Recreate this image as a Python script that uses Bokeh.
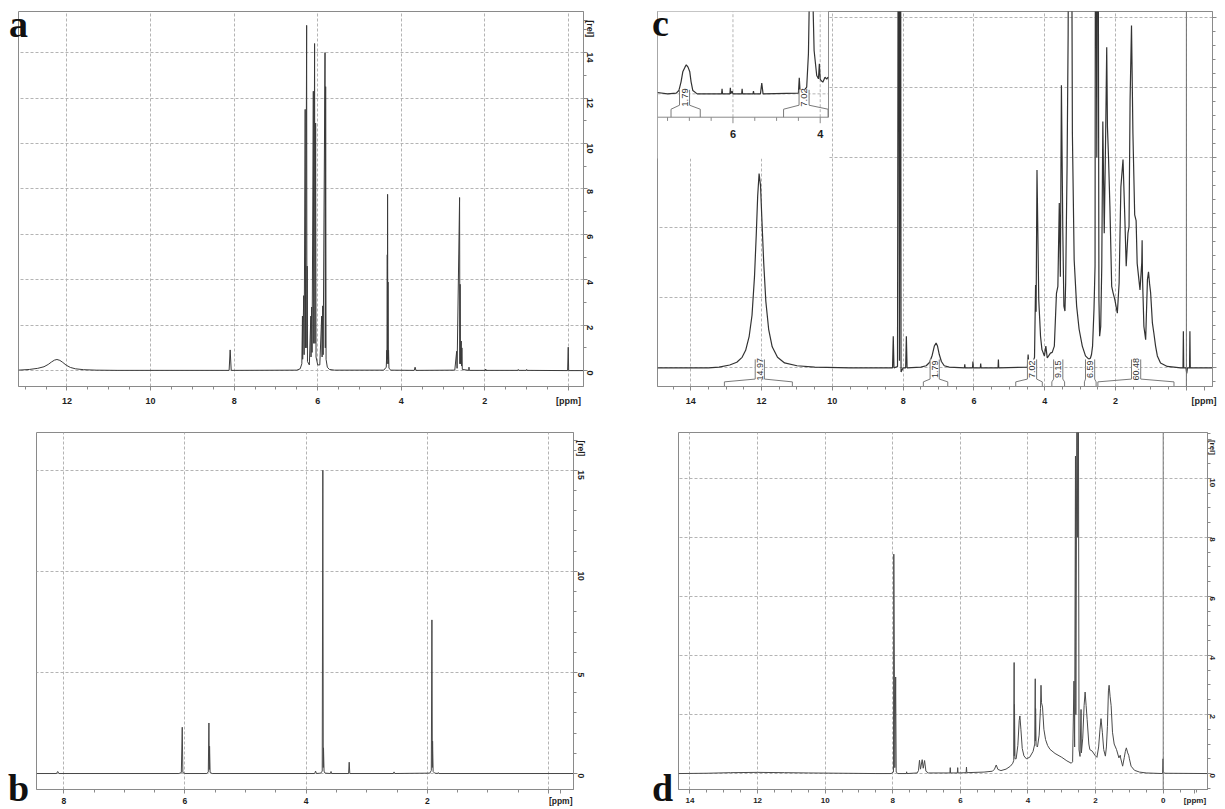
import math
import numpy as np
from bokeh.plotting import figure
from bokeh.layouts import column, row
from bokeh.models import Range1d, FixedTicker, Span, Div, InlineStyleSheet
from bokeh.embed import file_html
from bokeh.resources import INLINE
from bokeh.core.properties import value

# ---------------- DATA (ppm, intensity) ----------------
a_trace = [
    (13.16, 0.02), (12.90, 0.05), (12.70, 0.10), (12.55, 0.17), (12.45, 0.27),
    (12.37, 0.38), (12.30, 0.46), (12.24, 0.49), (12.17, 0.45), (12.10, 0.36),
    (12.02, 0.24), (11.92, 0.14), (11.80, 0.08), (11.60, 0.04), (11.30, 0.02),
    (10.80, 0.01), (8.12, 0.01), (8.095, 0.91), (8.07, 0.01),
    (6.50, 0.02), (6.42, 0.08), (6.38, 0.30), (6.365, 2.4), (6.36, 0.5),
    (6.335, 3.3), (6.325, 0.7), (6.30, 11.5), (6.29, 1.0), (6.265, 15.2),
    (6.258, 1.0), (6.252, 4.6), (6.245, 0.4), (6.20, 0.25),
    (6.165, 2.4), (6.16, 0.6), (6.145, 2.8), (6.135, 0.8), (6.105, 12.3),
    (6.095, 1.2), (6.075, 14.4), (6.065, 1.2), (6.05, 10.9), (6.04, 0.6),
    (6.00, 0.25), (5.95, 0.25), (5.905, 2.4), (5.895, 0.6), (5.88, 2.85),
    (5.87, 0.7), (5.825, 14.0), (5.818, 1.0), (5.81, 12.5), (5.80, 0.5),
    (5.77, 0.15), (5.72, 0.05), (5.60, 0.02),
    (4.42, 0.02), (4.36, 0.15), (4.345, 0.9), (4.34, 0.3), (4.335, 5.1),
    (4.332, 0.5), (4.328, 7.76), (4.322, 0.5), (4.318, 3.9), (4.312, 0.3),
    (4.305, 0.9), (4.295, 0.1), (4.25, 0.02),
    (3.69, 0.01), (3.67, 0.15), (3.65, 0.01),
    (2.72, 0.02), (2.675, 0.85), (2.665, 0.1), (2.605, 7.62), (2.598, 0.3),
    (2.593, 3.8), (2.585, 0.3), (2.565, 1.3), (2.558, 0.2), (2.55, 1.0),
    (2.54, 0.05), (2.385, 0.01), (2.38, 0.15), (2.375, 0.01),
    (1.985, 0.01), (1.98, 0.07), (1.975, 0.01),
    (1.21, 0.01), (1.20, 0.05), (1.19, 0.01),
    (1.01, 0.01), (1.00, 0.05), (0.99, 0.01),
    (0.02, 0.0), (0.005, 1.03), (-0.005, 0.0), (-0.36, 0.0),
]

b_trace = [
    (8.45, 0.0), (8.12, 0.0), (8.10, 0.1), (8.08, 0.0),
    (6.10, 0.0), (6.06, 0.05), (6.045, 2.29), (6.035, 0.05), (6.00, 0.0),
    (5.64, 0.0), (5.615, 0.08), (5.605, 2.5), (5.598, 0.2), (5.594, 1.35),
    (5.585, 0.05), (5.55, 0.0),
    (3.86, 0.0), (3.845, 0.12), (3.83, 0.0), (3.76, 0.02), (3.735, 0.12),
    (3.725, 15.0), (3.718, 0.3), (3.714, 1.27), (3.705, 0.12), (3.69, 0.02),
    (3.60, 0.0), (3.59, 0.1), (3.58, 0.0),
    (3.30, 0.0), (3.29, 0.56), (3.28, 0.0),
    (2.56, 0.0), (2.55, 0.08), (2.54, 0.0),
    (1.96, 0.02), (1.935, 0.15), (1.925, 7.6), (1.918, 0.3), (1.914, 1.6),
    (1.905, 0.1), (1.88, 0.02), (1.83, 0.0), (1.82, 0.05), (1.81, 0.0),
    (-0.41, 0.0),
]

c_trace = [
    (14.94, 0.0), (13.5, 0.0), (13.2, 0.01), (12.9, 0.04), (12.7, 0.08),
    (12.55, 0.15), (12.45, 0.25), (12.35, 0.45), (12.27, 0.75), (12.20, 1.30),
    (12.15, 1.90), (12.11, 2.45), (12.07, 2.77), (12.03, 2.60), (11.99, 2.10),
    (11.94, 1.50), (11.88, 0.95), (11.80, 0.55), (11.70, 0.30), (11.55, 0.15),
    (11.35, 0.07), (11.0, 0.03), (10.5, 0.01), (9.5, 0.0),
    (8.30, 0.0), (8.28, 0.45), (8.26, 0.0), (8.16, 0.02), (8.135, 9.0),
    (8.105, 0.1), (8.075, 9.0), (8.06, -0.06), (8.0, 0.0),
    (7.93, 0.0), (7.91, 0.45), (7.89, 0.0),
    (7.5, 0.01), (7.35, 0.03), (7.25, 0.08), (7.18, 0.18), (7.12, 0.31),
    (7.07, 0.355), (7.03, 0.31), (6.98, 0.19), (6.92, 0.09), (6.84, 0.03),
    (6.7, 0.01), (6.27, 0.0), (6.26, 0.05), (6.25, 0.0), (6.04, 0.0),
    (6.03, 0.09), (6.02, 0.0), (5.82, 0.0), (5.81, 0.06), (5.80, 0.0),
    (5.32, 0.0), (5.31, 0.12), (5.30, 0.0),
    (4.49, 0.01), (4.47, 0.19), (4.45, 0.03), (4.35, 0.06), (4.29, 0.15),
    (4.26, 1.18), (4.245, 0.8), (4.22, 2.82), (4.17, 0.97), (4.12, 0.45),
    (4.08, 0.26), (4.01, 0.17), (3.97, 0.31), (3.93, 0.14), (3.84, 0.21),
    (3.79, 0.22), (3.73, 0.31), (3.67, 1.06), (3.63, 1.16), (3.59, 2.35),
    (3.56, 1.3), (3.53, 4.03), (3.49, 1.92), (3.46, 0.88), (3.43, 0.81),
    (3.41, 1.21), (3.37, 2.87), (3.34, 4.76), (3.32, 8.0), (3.29, 6.0),
    (3.25, 8.0), (3.22, 3.34), (3.17, 1.54), (3.10, 0.88), (3.03, 0.55),
    (2.94, 0.31), (2.85, 0.17), (2.75, 0.12), (2.71, 0.14), (2.68, 0.19),
    (2.65, 0.31), (2.61, 0.83), (2.58, 1.45), (2.565, 9.0), (2.53, 3.0),
    (2.50, 9.0), (2.47, 0.97), (2.45, 0.45), (2.42, 0.59), (2.39, 1.45),
    (2.36, 3.51), (2.32, 1.92), (2.28, 3.34), (2.25, 4.57), (2.23, 3.44),
    (2.20, 3.01), (2.16, 2.3), (2.11, 1.16), (2.07, 1.07), (2.02, 0.97),
    (1.95, 0.78), (1.90, 1.21), (1.85, 2.58), (1.79, 2.97), (1.74, 2.16),
    (1.70, 1.45), (1.65, 1.92), (1.62, 2.01), (1.59, 3.82), (1.55, 4.88),
    (1.51, 3.34), (1.46, 2.18), (1.42, 2.1), (1.39, 1.49), (1.31, 1.11),
    (1.26, 1.5), (1.25, 1.82), (1.24, 1.3), (1.20, 0.59), (1.15, 0.40),
    (1.10, 1.26), (1.07, 1.37), (1.04, 1.2), (1.01, 1.07), (0.96, 0.64),
    (0.92, 0.50), (0.87, 0.31), (0.82, 0.17), (0.73, 0.07), (0.54, 0.02),
    (0.16, 0.0), (0.095, 0.0), (0.085, 0.52), (0.075, 0.0), (0.01, 0.0),
    (-0.01, -0.08), (-0.03, 0.0), (-0.09, 0.0), (-0.10, 0.52), (-0.11, 0.0),
    (-0.74, 0.0),
]

c_inset_trace = [
    (7.73, 0.02), (7.50, 0.0), (7.30, 0.01), (7.24, 0.05), (7.19, 0.18),
    (7.15, 0.33), (7.10, 0.40), (7.07, 0.435), (7.03, 0.40), (6.99, 0.33),
    (6.96, 0.18), (6.92, 0.05), (6.82, 0.0), (6.26, 0.0), (6.25, 0.075),
    (6.24, 0.0), (6.07, 0.0), (6.06, 0.09), (6.05, 0.0), (6.02, 0.04),
    (6.00, 0.0), (5.80, 0.0), (5.79, 0.075), (5.78, 0.0), (5.54, 0.0),
    (5.53, 0.04), (5.52, 0.0), (5.37, 0.0), (5.34, 0.16), (5.31, 0.0),
    (4.50, 0.01), (4.48, 0.24), (4.46, 0.02), (4.36, 0.06), (4.31, 0.10),
    (4.27, 0.6), (4.245, 1.6), (4.235, 3.0), (4.19, 3.0), (4.16, 1.2),
    (4.14, 0.65), (4.08, 0.275), (4.04, 0.225), (4.02, 0.45), (4.00, 0.22),
    (3.98, 0.20), (3.94, 0.175), (3.89, 0.25), (3.85, 0.22), (3.82, 0.25),
]

d_trace = [
    (14.34, 0.0), (13.5, 0.01), (12.8, 0.03), (12.0, 0.04), (11.2, 0.03),
    (10.5, 0.02), (9.5, 0.01), (8.5, 0.0), (8.05, 0.0), (7.98, 0.05),
    (7.97, 7.43), (7.94, 0.2), (7.915, 3.27), (7.90, 0.05), (7.85, 0.0),
    (7.60, 0.0), (7.59, 0.06), (7.58, 0.0), (7.28, 0.02), (7.24, 0.10),
    (7.21, 0.45), (7.18, 0.15), (7.13, 0.47), (7.10, 0.18), (7.06, 0.44),
    (7.02, 0.08), (6.95, 0.02), (6.31, 0.02), (6.30, 0.2), (6.29, 0.02),
    (6.09, 0.02), (6.08, 0.2), (6.07, 0.02), (5.83, 0.03), (5.82, 0.22),
    (5.81, 0.03), (5.30, 0.05), (5.05, 0.08), (4.99, 0.15), (4.94, 0.29),
    (4.89, 0.14), (4.80, 0.10), (4.65, 0.15), (4.52, 0.25), (4.45, 0.35),
    (4.42, 0.45), (4.41, 3.76), (4.405, 0.6), (4.40, 2.34), (4.385, 0.5),
    (4.35, 0.5), (4.30, 0.95), (4.26, 1.8), (4.24, 1.95), (4.21, 1.5),
    (4.17, 0.85), (4.12, 0.6), (4.05, 0.5), (3.95, 0.55), (3.85, 0.75),
    (3.80, 1.0), (3.785, 3.21), (3.78, 1.1), (3.775, 2.2), (3.76, 0.95),
    (3.72, 0.9), (3.67, 1.3), (3.63, 2.2), (3.615, 2.99), (3.60, 2.4),
    (3.57, 2.25), (3.53, 1.5), (3.48, 1.15), (3.42, 0.95), (3.35, 0.82),
    (3.20, 0.68), (3.00, 0.55), (2.85, 0.43), (2.72, 0.35), (2.68, 0.40),
    (2.64, 3.13), (2.62, 0.9), (2.595, 10.75), (2.585, 2.0), (2.55, 14.0),
    (2.53, 8.0), (2.51, 14.0), (2.49, 0.8), (2.46, 0.58), (2.43, 2.17),
    (2.42, 0.7), (2.38, 1.2), (2.34, 2.3), (2.31, 2.76), (2.28, 2.3),
    (2.25, 1.83), (2.20, 1.0), (2.17, 0.81), (2.10, 0.76), (2.02, 0.62),
    (1.96, 0.55), (1.91, 0.9), (1.87, 1.5), (1.84, 1.86), (1.80, 1.4),
    (1.76, 0.81), (1.71, 0.59), (1.68, 0.9), (1.65, 1.6), (1.62, 2.8),
    (1.60, 2.99), (1.57, 2.6), (1.54, 2.3), (1.50, 1.4), (1.45, 1.0),
    (1.38, 0.81), (1.31, 0.53), (1.27, 0.62), (1.26, 0.53), (1.20, 0.25),
    (1.15, 0.55), (1.12, 0.75), (1.09, 0.87), (1.05, 0.70), (1.02, 0.62),
    (1.00, 0.50), (0.95, 0.25), (0.85, 0.11), (0.70, 0.05), (0.50, 0.02),
    (0.02, 0.0), (0.005, 0.5), (-0.005, 0.05), (-0.05, 0.01), (-1.31, 0.0),
]

# integrals of panel c (main spectrum)
c_int_labels = ["14.97", "1.79", "7.02", "9.15", "6.59", "60.48"]
c_int_center = [12.05, 7.11, 4.36, 3.62, 2.72, 1.42]
c_int_start = [13.05, 7.43, 4.82, 3.80, 2.88, 2.50]
c_int_end = [11.13, 6.74, 4.07, 3.44, 2.55, 0.35]

# integrals of panel c inset
ci_int_labels = ["1.79", "7.02"]
ci_int_center = [7.11, 4.37]
ci_int_start = [7.42, 4.84]
ci_int_end = [6.75, 3.82]

# tick values / labels
a_xticks = [12, 10, 8, 6, 4, 2, 0]
a_yticks = [0, 2, 4, 6, 8, 10, 12, 14]
b_xticks = [8, 6, 4, 2, 0]
b_yticks = [0, 5, 10, 15]
c_xticks = [14, 12, 10, 8, 6, 4, 2, 0]
c_yticks = [0, 1, 2, 3, 4, 5]
d_xticks = [14, 12, 10, 8, 6, 4, 2, 0]
d_yticks = [0, 2, 4, 6, 8, 10]
inset_ticks = [7.5, 7.0, 6.5, 6.0, 5.5, 5.0, 4.5, 4.0]
inset_labeled = [6, 4]

panel_letters = ["a", "c", "b", "d"]

# ---------------- STYLE ----------------
FRAME = "#8a8a8a"
GRID = "#b4b4b4"
INK = "#3a3a3a"
TXT = "#1e1e1e"
FONT = "Liberation Sans"


def make_fig(w, h, xlim, ylim, bl, br, bt, bb):
    p = figure(width=w, height=h, x_range=Range1d(*xlim), y_range=Range1d(*ylim),
               y_axis_location="right", output_backend="svg", toolbar_location=None,
               title=None, min_border_left=bl, min_border_right=br,
               min_border_top=bt, min_border_bottom=bb)
    p.outline_line_color = FRAME
    p.outline_line_width = 1
    p.background_fill_color = "white"
    p.border_fill_color = "white"
    p.xgrid.grid_line_color = GRID
    p.ygrid.grid_line_color = GRID
    p.xgrid.grid_line_dash = "3 2"
    p.ygrid.grid_line_dash = "3 2"
    return p


def style_axis(ax, ticks, minor, overrides, size, standoff, orient=None, tick_out=4):
    ax.ticker = FixedTicker(ticks=ticks, minor_ticks=list(minor))
    ax.major_label_overrides = overrides
    ax.axis_line_color = FRAME
    ax.major_tick_line_color = FRAME
    ax.minor_tick_line_color = FRAME
    ax.major_tick_in = 0
    ax.major_tick_out = tick_out
    ax.minor_tick_in = 0
    ax.minor_tick_out = 3
    ax.major_label_standoff = standoff
    ax.major_label_text_font = FONT
    ax.major_label_text_font_style = "bold"
    ax.major_label_text_font_size = size
    ax.major_label_text_color = TXT
    if orient is not None:
        ax.major_label_orientation = orient


def xy(trace):
    return [t[0] for t in trace], [t[1] for t in trace]


def letter_div(txt, left, top):
    css = (":host { position: absolute !important; left: %dpx !important; "
           "top: %dpx !important; margin: 0 !important; z-index: 10; }" % (left, top))
    html = ('<span style="font-family: \'Liberation Serif\', \'Times New Roman\', serif; '
            'font-weight: bold; font-size: 38px; line-height: 38px; color: #111111;">'
            '%s</span>' % txt)
    return Div(text=html, width=26, height=38, stylesheets=[InlineStyleSheet(css=css)],
               styles={"line-height": "38px", "overflow": "visible"})


def brackets(p, labels, centers, starts, ends, half, ybot, yjoint, yboxb, yboxt, size, **rn):
    xs, ys = [], []
    for c, s, e in zip(centers, starts, ends):
        xs.append([s, s, c + half, c + half])
        ys.append([ybot, yjoint, yboxb, yboxt])
        xs.append([e, e, c - half, c - half])
        ys.append([ybot, yjoint, yboxb, yboxt])
    p.quad(left=[c + half for c in centers], right=[c - half for c in centers],
           bottom=[yboxb] * len(centers), top=[yboxt] * len(centers),
           fill_color="white", line_color=None, **rn)
    p.multi_line(xs, ys, line_color="#7a7a7a", line_width=1, **rn)
    p.text(x=centers, y=[(yboxb + yboxt) / 2] * len(centers), text=labels,
           angle=math.pi / 2, text_font=value(FONT), text_font_size=size,
           text_align="center", text_baseline="middle", text_color="#333333", **rn)


# ---------------- PANEL a ----------------
pa = make_fig(620, 418, (13.16, -0.36), (-0.70, 15.81), 18, 37, 11, 32)
style_axis(pa.xaxis[0], a_xticks, np.arange(-0.5, 13.6, 0.5), {0: "[ppm]"}, "9px", 5)
style_axis(pa.yaxis[0], a_yticks + [15.42], np.arange(-1, 16.5, 1), {15.42: "[rel]"},
           "9px", 2, orient=-math.pi / 2)
pa.xgrid.ticker = FixedTicker(ticks=a_xticks)
pa.ygrid.ticker = FixedTicker(ticks=a_yticks)
ax_, ay_ = xy(a_trace)
pa.line(ax_, ay_, line_color=INK, line_width=1)

# ---------------- PANEL c ----------------
C_FW, C_FH = 555, 376
c_left, c_pxppm = 14.94, 35.4
pc = make_fig(604, 418, (c_left, c_left - C_FW / c_pxppm), (-0.266, 5.08), 37, 12, 11, 31)
style_axis(pc.xaxis[0], c_xticks + [-0.5], np.arange(-1.0, 15.1, 0.5),
           {0: "", -0.5: "[ppm]"}, "9px", 5)
style_axis(pc.yaxis[0], c_yticks, np.arange(-0.4, 5.3, 0.2),
           {t: "" for t in c_yticks}, "1px", 0)
pc.xgrid.ticker = FixedTicker(ticks=c_xticks)
pc.ygrid.ticker = FixedTicker(ticks=c_yticks)
pc.add_layout(Span(location=0, dimension="height", line_color="#6f6f6f", line_width=1))
cx_, cy_ = xy(c_trace)
pc.line(cx_, cy_, line_color="#333333", line_width=1.2)
brackets(pc, c_int_labels, c_int_center, c_int_start, c_int_end,
         0.13, -0.4, -0.2, -0.16, 0.12, "9px")

# inset (own scales mapped into the top-left corner of panel c)
inset_xlim = (7.73, 3.81)
inset_ylim = (-0.35, 1.234)
INSET_W_PX, INSET_H_PX = 171, 106
ix0, ix1 = inset_xlim
iy0, iy1 = inset_ylim
pc.extra_x_ranges = {"ix": Range1d(ix0, ix0 - (ix0 - ix1) * C_FW / INSET_W_PX)}
pc.extra_y_ranges = {"iy": Range1d(iy1 - (iy1 - iy0) * C_FH / INSET_H_PX, iy1)}
rn = dict(x_range_name="ix", y_range_name="iy")
pc.quad(left=[ix0], right=[ix1], bottom=[-0.97], top=[iy1 + 0.5],
        fill_color="white", line_color=None, **rn)
pc.multi_line([[t, t] for t in inset_labeled] + [[ix0, ix1]],
              [[iy0, iy1 + 0.5] for t in inset_labeled] + [[0, 0]],
              line_color=GRID, line_dash="3 2", line_width=1, **rn)
pc.multi_line([[ix1, ix1, ix0]], [[iy1 + 0.5, iy0, iy0]], line_color=FRAME, line_width=1, **rn)
pc.segment(x0=inset_ticks, x1=inset_ticks, y0=[iy0] * len(inset_ticks),
           y1=[iy0 - (0.09 if t in inset_labeled else 0.055) for t in inset_ticks],
           line_color=FRAME, line_width=1, **rn)
pc.text(x=inset_labeled, y=[-0.6] * len(inset_labeled), text=[str(t) for t in inset_labeled],
        text_font=value(FONT), text_font_style="bold", text_font_size="11px",
        text_align="center", text_baseline="middle", text_color=TXT, **rn)
cix_, ciy_ = xy(c_inset_trace)
pc.line(cix_, ciy_, line_color="#333333", line_width=1.2, **rn)
brackets(pc, ci_int_labels, ci_int_center, ci_int_start, ci_int_end,
         0.115, iy0, -0.23, -0.17, 0.06, "9.5px", **rn)

# ---------------- PANEL b ----------------
b_left, b_pxppm = 8.45, 60.6
pb = make_fig(620, 390, (b_left, b_left - 537 / b_pxppm), (-0.79, 16.87), 36, 47, 14, 18)
style_axis(pb.xaxis[0], b_xticks + [-0.2], np.arange(-0.5, 8.6, 0.5),
           {0: "", -0.2: "[ppm]"}, "8.5px", 2)
style_axis(pb.yaxis[0], b_yticks + [16.48], np.arange(-1, 17.5, 1), {16.48: "[rel]"},
           "8.5px", 3, orient=-math.pi / 2)
pb.xgrid.ticker = FixedTicker(ticks=b_xticks)
pb.ygrid.ticker = FixedTicker(ticks=b_yticks)
bx_, by_ = xy(b_trace)
pb.line(bx_, by_, line_color="#474747", line_width=1)

# ---------------- PANEL d ----------------
d_left, d_pxppm = 14.34, 33.8
pd_ = make_fig(604, 390, (d_left, d_left - 529 / d_pxppm), (-0.54, 11.55), 58, 17, 14, 18)
style_axis(pd_.xaxis[0], d_xticks + [-0.94], np.arange(-1.5, 14.6, 0.5),
           {-0.94: "[ppm]"}, "8px", 2)
style_axis(pd_.yaxis[0], d_yticks + [11.3], np.arange(-0.5, 11.6, 0.5), {11.3: "[rel]"},
           "8px", 1, orient=-math.pi / 2)
pd_.xgrid.ticker = FixedTicker(ticks=d_xticks)
pd_.ygrid.ticker = FixedTicker(ticks=d_yticks)
pd_.add_layout(Span(location=0, dimension="height", line_color="#7a7a7a", line_width=1))
dx_, dy_ = xy(d_trace)
pd_.line(dx_, dy_, line_color="#4a4a4a", line_width=1)

# panel letters (page positions of their boxes)
letter_pos = [(9, 5), (652, 4), (8, 769), (652, 769)]
letters = [letter_div(t, x, y) for t, (x, y) in zip(panel_letters, letter_pos)]

layout = column(row(pa, pc), row(pb, pd_), *letters,
                stylesheets=[InlineStyleSheet(css=":host { position: relative; }")])
open("out.html", "w").write(file_html(layout, INLINE))
